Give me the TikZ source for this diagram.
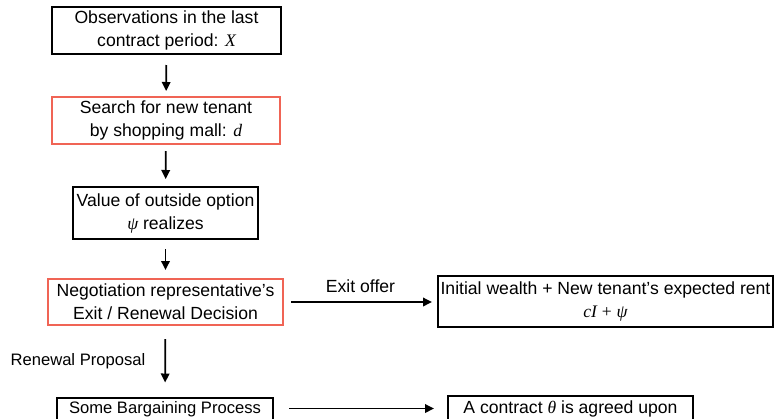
\documentclass[tikz,border=0pt]{standalone}
\usepackage{fontspec}
\setmainfont{Liberation Sans}
\newfontfamily\mathser{Liberation Serif}
\usetikzlibrary{arrows.meta}
\definecolor{salmon}{RGB}{240,100,85}
\newcommand{\mv}[1]{{\mathser\itshape #1}}
\begin{document}
\begin{tikzpicture}[x=1pt,y=-1pt,
  every node/.style={font=\fontsize{17.6}{23}\selectfont, align=center, inner sep=0pt},
  smalltext/.style={font=\fontsize{16.6}{22}\selectfont},
  blackbox/.style={draw=black, line width=2pt, minimum width=#1},
  redbox/.style={draw=salmon, line width=2pt, minimum width=#1},
  flow/.style={line width=1.8pt, -{Triangle[length=9pt,width=8.5pt]}}]
\useasboundingbox (0,0) rectangle (775,418);
\node[blackbox=229pt, minimum height=47pt] (b1) at (166.5,30.5) {Observations in the last\\contract period: \mv{X}};
\node[redbox=228pt, minimum height=47pt] (b2) at (166,120.5) {Search for new tenant\\by shopping mall: \mv{d}};
\node[blackbox=185pt, minimum height=52pt] (b3) at (165.5,213) {Value of outside option\\\mv{ψ} realizes};
\node[redbox=235pt, minimum height=46pt] (b4) at (165.5,302) {Negotiation representative’s\\Exit / Renewal Decision};
\node[blackbox=335pt, minimum height=51pt] (b5) at (605.5,301.5) {Initial wealth + New tenant’s expected rent\\{\mathser\itshape cI} {\mathser +} \mv{ψ}};
\node[blackbox=216pt, minimum height=24pt, smalltext] (b6) at (165,409.5) {Some Bargaining Process};
\node[blackbox=245pt, minimum height=26pt] (b7) at (570.5,408.5) {A contract \mv{θ} is agreed upon};
\draw[flow, shorten <=10pt, shorten >=5pt] (b1) -- (b2);
\draw[flow, shorten <=6pt, shorten >=7pt] (b2) -- (b3);
\draw[flow, shorten <=9pt, shorten >=8pt] (b3) -- (b4);
\draw[flow, shorten <=7pt, shorten >=5pt] (b4) -- node[above=8pt] (lexit) {Exit offer} (b5.west |- b4);
\draw[flow, shorten <=13pt, shorten >=14pt] (b4) -- node[left=19pt, smalltext] (lren) {Renewal Proposal} (b6);
\draw[flow, shorten <=15pt, shorten >=13pt] (b6.east |- b7) -- (b7);
\end{tikzpicture}
\end{document}
